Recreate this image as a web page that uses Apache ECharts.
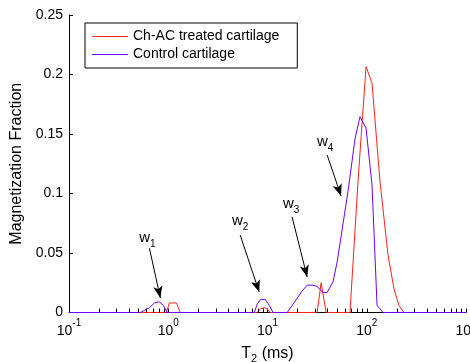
<!DOCTYPE html>
<html><head><meta charset="utf-8">
<script src="https://cdn.jsdelivr.net/npm/echarts@6/dist/echarts.min.js"></script>
<style>html,body{margin:0;padding:0;background:#fff}#c{width:470px;height:362px}</style>
</head><body><div id="c"></div>
<script>
// Ch-AC treated cartilage
const chacT2  = [0.1, 0.957, 1.026, 1.21, 1.32, 7.87, 8.5, 9.27, 9.93, 10.6, 31.6, 34.7, 38.9, 67.8, 81.6, 98.4, 113, 136, 164, 188, 211, 237, 1000];
const chacVal = [0,   0,     0.008, 0.008, 0,   0,    0.003, 0.004, 0.003, 0,  0,    0.025, 0,   0,    0.11, 0.2066, 0.1926, 0.11, 0.048, 0.02, 0.006, 0, 0];
// Control cartilage
const ctrlT2  = [0.1, 0.524, 0.646, 0.724, 0.81, 0.894, 0.98, 7.35, 7.88, 8.5, 9.49, 10.4, 11.4, 15.8, 19.9, 22.3, 25.1, 28.2, 31.6, 36.3, 39.8, 45.8, 50.2, 57.8, 64.9, 76.2, 85.5, 98.4, 113, 127, 146, 1000];
const ctrlVal = [0,   0,     0.004, 0.008, 0.009, 0.006, 0,   0,    0.007, 0.011, 0.011, 0.006, 0,  0,    0.012, 0.018, 0.023, 0.023, 0.022, 0.0167, 0.0167, 0.026, 0.042, 0.075, 0.1025, 0.146, 0.1645, 0.155, 0.107, 0.006, 0, 0];
// minor ticks of the log axis
const xMinorTicks = [0.2,0.3,0.4,0.5,0.6,0.7,0.8,0.9, 2,3,4,5,6,7,8,9, 20,30,40,50,60,70,80,90, 200,300,400,500,600,700,800,900];
// annotations: label, label position, arrow start, arrow end (data coordinates)
const annLabels   = ['1', '2', '3', '4'];
const annLabelPos = [[0.617, 0.0626], [5.31, 0.0769], [17.3, 0.0912], [38.1, 0.1433]];
const annStart    = [[0.646, 0.054], [5.31, 0.065], [17.7, 0.0802], [39.9, 0.1324]];
const annEnd      = [[0.833, 0.0122], [8.25, 0.0172], [25.1, 0.0298], [55.1, 0.0979]];
const seriesNames = ['Ch-AC treated cartilage', 'Control cartilage'];

const FONT = "'Liberation Sans', Arial, sans-serif";
const chart = echarts.init(document.getElementById('c'), null, {renderer: 'canvas'});
chart.setOption({
  animation: false,
  textStyle: {fontFamily: FONT},
  grid: {left: 69, right: 4, top: 15, bottom: 49.5, containLabel: false, outerBoundsMode: 'none'},
  legend: {
    data: seriesNames, orient: 'vertical', left: 85, top: 23,
    borderColor: '#000', borderWidth: 1, padding: [6, 18, 6, 7], itemGap: 3,
    icon: 'rect', itemWidth: 36, itemHeight: 1,
    textStyle: {fontSize: 14, lineHeight: 15, color: '#000', fontFamily: FONT}
  },
  xAxis: {
    type: 'log', logBase: 10, min: 0.1, max: 1000,
    name: '{a|T}{b|2}{a| (ms)}', nameLocation: 'middle', nameGap: 30,
    nameTextStyle: {rich: {
      a: {fontSize: 16, color: '#000', fontFamily: FONT, lineHeight: 22, verticalAlign: 'middle'},
      b: {fontSize: 11, color: '#000', fontFamily: FONT, lineHeight: 22, verticalAlign: 'bottom'}
    }},
    axisLine: {lineStyle: {color: '#000', width: 1}},
    axisTick: {inside: true, length: 4, lineStyle: {color: '#000'}},
    splitLine: {show: false},
    axisLabel: {
      margin: 6,
      formatter: v => '{a|10}{s|' + Math.round(Math.log10(v)) + '}',
      rich: {
        a: {fontSize: 14, color: '#000', fontFamily: FONT, lineHeight: 20, verticalAlign: 'bottom'},
        s: {fontSize: 10, color: '#000', fontFamily: FONT, lineHeight: 20, verticalAlign: 'top'}
      }
    }
  },
  yAxis: {
    type: 'value', min: 0, max: 0.25, interval: 0.05,
    name: 'Magnetization Fraction', nameLocation: 'middle', nameGap: 40,
    nameTextStyle: {fontSize: 16, color: '#000', fontFamily: FONT},
    axisLine: {show: true, lineStyle: {color: '#000', width: 1}},
    axisTick: {show: true, inside: true, length: 4, lineStyle: {color: '#000'}},
    splitLine: {show: false},
    axisLabel: {margin: 6, fontSize: 14, color: '#000', fontFamily: FONT,
      formatter: v => String(Math.round(v * 100) / 100)}
  },
  series: [
    {
      name: seriesNames[0], type: 'line', symbol: 'none', z: 3,
      lineStyle: {color: '#ff2020', width: 1}, itemStyle: {color: '#ff2020'},
      data: chacT2.map((t, i) => [t, chacVal[i]])
    },
    {
      name: seriesNames[1], type: 'line', symbol: 'none', z: 4,
      lineStyle: {color: '#6a00ff', width: 1}, itemStyle: {color: '#6a00ff'},
      data: ctrlT2.map((t, i) => [t, ctrlVal[i]]),
      markLine: {
        silent: true, symbol: ['none', 'arrow'], symbolSize: [7, 12], precision: 6,
        lineStyle: {color: '#000', width: 1, type: 'solid'},
        label: {show: false}, emphasis: {disabled: true},
        data: annStart.map((s, i) => [{coord: s}, {coord: annEnd[i]}])
      },
      markPoint: {
        silent: true, symbol: 'circle', symbolSize: 0,
        label: {
          show: true, position: 'inside',
          formatter: p => '{a|w}{b|' + p.name + '}',
          rich: {
            a: {fontSize: 15, color: '#000', fontFamily: FONT, lineHeight: 22, verticalAlign: 'middle'},
            b: {fontSize: 10, color: '#000', fontFamily: FONT, lineHeight: 22, verticalAlign: 'bottom'}
          }
        },
        data: annLabelPos.map((c, i) => ({coord: c, name: annLabels[i]}))
      }
    },
    {
      name: 'minor', type: 'custom', silent: true, z: 5,
      data: xMinorTicks.map(v => [v, 0]),
      renderItem: (params, api) => {
        const p = api.coord([api.value(0), 0]);
        const x = Math.round(p[0]) + 0.5;
        return {type: 'line', shape: {x1: x, y1: p[1], x2: x, y2: p[1] - 4},
          style: {stroke: '#000', lineWidth: 1}};
      }
    }
  ]
});
</script>
</body></html>
